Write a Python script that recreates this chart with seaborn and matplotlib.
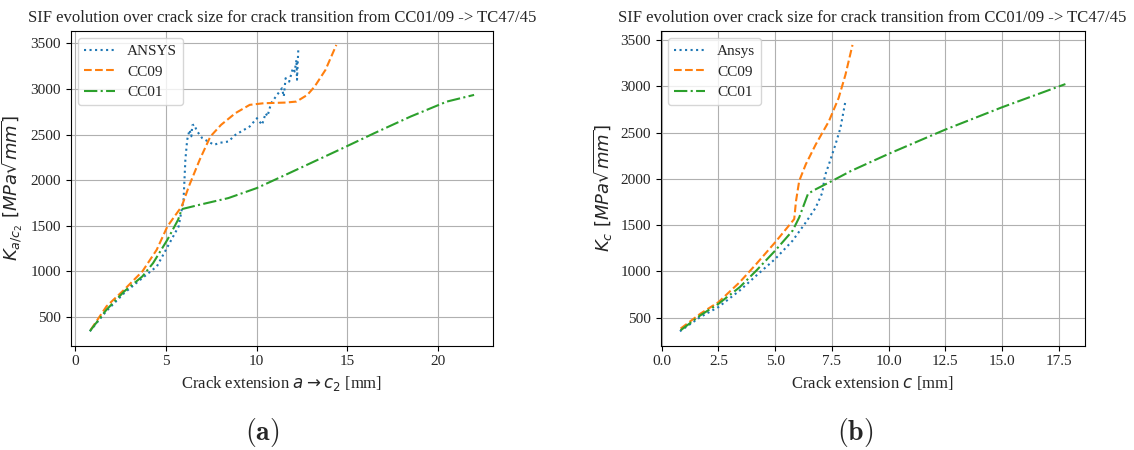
import matplotlib
matplotlib.use("Agg")
import matplotlib.pyplot as plt
import pandas as pd
import seaborn as sns

# panel (a): K along a -> c2
a_ansys_x = [0.8, 1.7, 2.7, 3.7, 4.5, 5.1, 5.7, 5.97, 6.07, 6.17, 6.3, 6.4, 6.45, 6.56, 6.7, 7.0,
             7.65, 8.0, 8.44, 8.83, 9.62, 10.02, 10.3, 10.5, 10.6, 10.8, 11.2, 11.4, 11.5, 11.6,
             11.8, 12.0, 12.1, 12.2, 12.23, 12.3]
a_ansys_y = [343, 562, 763, 927, 1055, 1274, 1493, 1785, 2223, 2442, 2550, 2480, 2600, 2610, 2540, 2460,
             2387, 2410, 2423, 2496, 2588, 2679, 2606, 2733, 2700, 2843, 2953, 3007, 2916, 3117,
             3080, 3226, 3190, 3318, 3100, 3427]
a_cc09_x = [0.85, 1.72, 2.7, 3.7, 4.49, 5.08, 5.47, 5.87, 6.26, 6.86, 7.45, 8.04, 8.83, 9.62, 10.4,
            11.6, 12.2, 12.8, 13.2, 13.8, 14.4]
a_cc09_y = [360, 617, 800, 1000, 1237, 1493, 1602, 1712, 1930, 2223, 2478, 2606, 2734, 2825, 2843,
            2850, 2861, 2934, 3025, 3208, 3482]
a_cc01_x = [0.8, 1.72, 2.7, 3.7, 4.29, 5.08, 5.67, 5.87, 6.86, 8.44, 10.0, 11.6, 12.98, 14.56, 16.5,
            18.5, 20.5, 22.0]
a_cc01_y = [345, 580, 781, 945, 1091, 1347, 1566, 1682, 1730, 1803, 1912, 2058, 2186, 2332, 2515,
            2697, 2861, 2934]

# panel (b): K along c
b_ansys_x = [0.8, 1.7, 2.5, 3.44, 4.17, 5.0, 5.77, 6.35, 6.79, 7.08, 7.19, 7.37, 7.66, 7.88, 8.1]
b_ansys_y = [353, 507, 615, 794, 955, 1134, 1332, 1529, 1690, 1851, 2030, 2156, 2371, 2550, 2840]
b_cc09_x = [0.83, 1.7, 2.5, 3.44, 4.17, 5.0, 5.48, 5.84, 5.92, 6.06, 6.35, 6.79, 7.37, 7.8, 8.1, 8.41]
b_cc09_y = [382, 543, 668, 884, 1081, 1314, 1457, 1565, 1762, 1977, 2156, 2371, 2622, 2873, 3124, 3446]
b_cc01_x = [0.83, 1.7, 2.5, 3.44, 4.17, 5.0, 5.77, 6.06, 6.45, 6.79, 7.51, 8.33, 10.0, 12.5, 15.0, 17.8]
b_cc01_y = [364, 525, 650, 830, 1009, 1224, 1440, 1583, 1839, 1887, 1977, 2083, 2269, 2531, 2772, 3023]

title = "SIF evolution over crack size for crack transition from CC01/09 -> TC47/45"
styles = [("tab:blue", ":"), ("tab:orange", "--"), ("tab:green", "-.")]

sns.set_style("ticks")
plt.rcParams["font.family"] = ["Liberation Serif", "DejaVu Serif"]
plt.rcParams["mathtext.fontset"] = "dejavusans"


def draw_panel(ax, series, xlabel, ylabel):
    for (name, xs, ys), (color, ls) in zip(series, styles):
        df = pd.DataFrame({"x": xs, "y": ys})
        sns.lineplot(data=df, x="x", y="y", ax=ax, color=color, linestyle=ls,
                     linewidth=1.5, label=name, sort=False, estimator=None)
    ax.grid(True, color="#b0b0b0", linewidth=0.8)
    for s in ax.spines.values():
        s.set_color("black")
        s.set_linewidth(0.8)
    ax.tick_params(labelsize=11, length=3.5, width=0.8, color="black")
    ax.set_title(title, fontsize=12)
    ax.set_xlabel(xlabel, fontsize=12)
    ax.set_ylabel(ylabel, fontsize=13)
    ax.legend(loc="upper left", fontsize=11, frameon=True, fancybox=True, framealpha=0.8,
              edgecolor="#cccccc", labelspacing=0.45)


fig = plt.figure(figsize=(11.34, 4.5), dpi=100)
ax1 = fig.add_axes([0.0623, 0.232, 0.3727, 0.70])
ax2 = fig.add_axes([0.5826, 0.232, 0.3739, 0.70])

draw_panel(ax1, [("ANSYS", a_ansys_x, a_ansys_y), ("CC09", a_cc09_x, a_cc09_y),
                 ("CC01", a_cc01_x, a_cc01_y)],
           r"Crack extension $a \rightarrow c_2$ [mm]", r"$K_{a/c_2}\ [MPa\sqrt{mm}]$")
draw_panel(ax2, [("Ansys", b_ansys_x, b_ansys_y), ("CC09", b_cc09_x, b_cc09_y),
                 ("CC01", b_cc01_x, b_cc01_y)],
           r"Crack extension $c$ [mm]", r"$K_c\ [MPa\sqrt{mm}]$")

fig.text(0.231, 0.038, r"$\mathbf{(a)}$", ha="center", va="center", fontsize=20, math_fontfamily="cm")
fig.text(0.754, 0.038, r"$\mathbf{(b)}$", ha="center", va="center", fontsize=20, math_fontfamily="cm")

fig.savefig("out.png", dpi=100)
